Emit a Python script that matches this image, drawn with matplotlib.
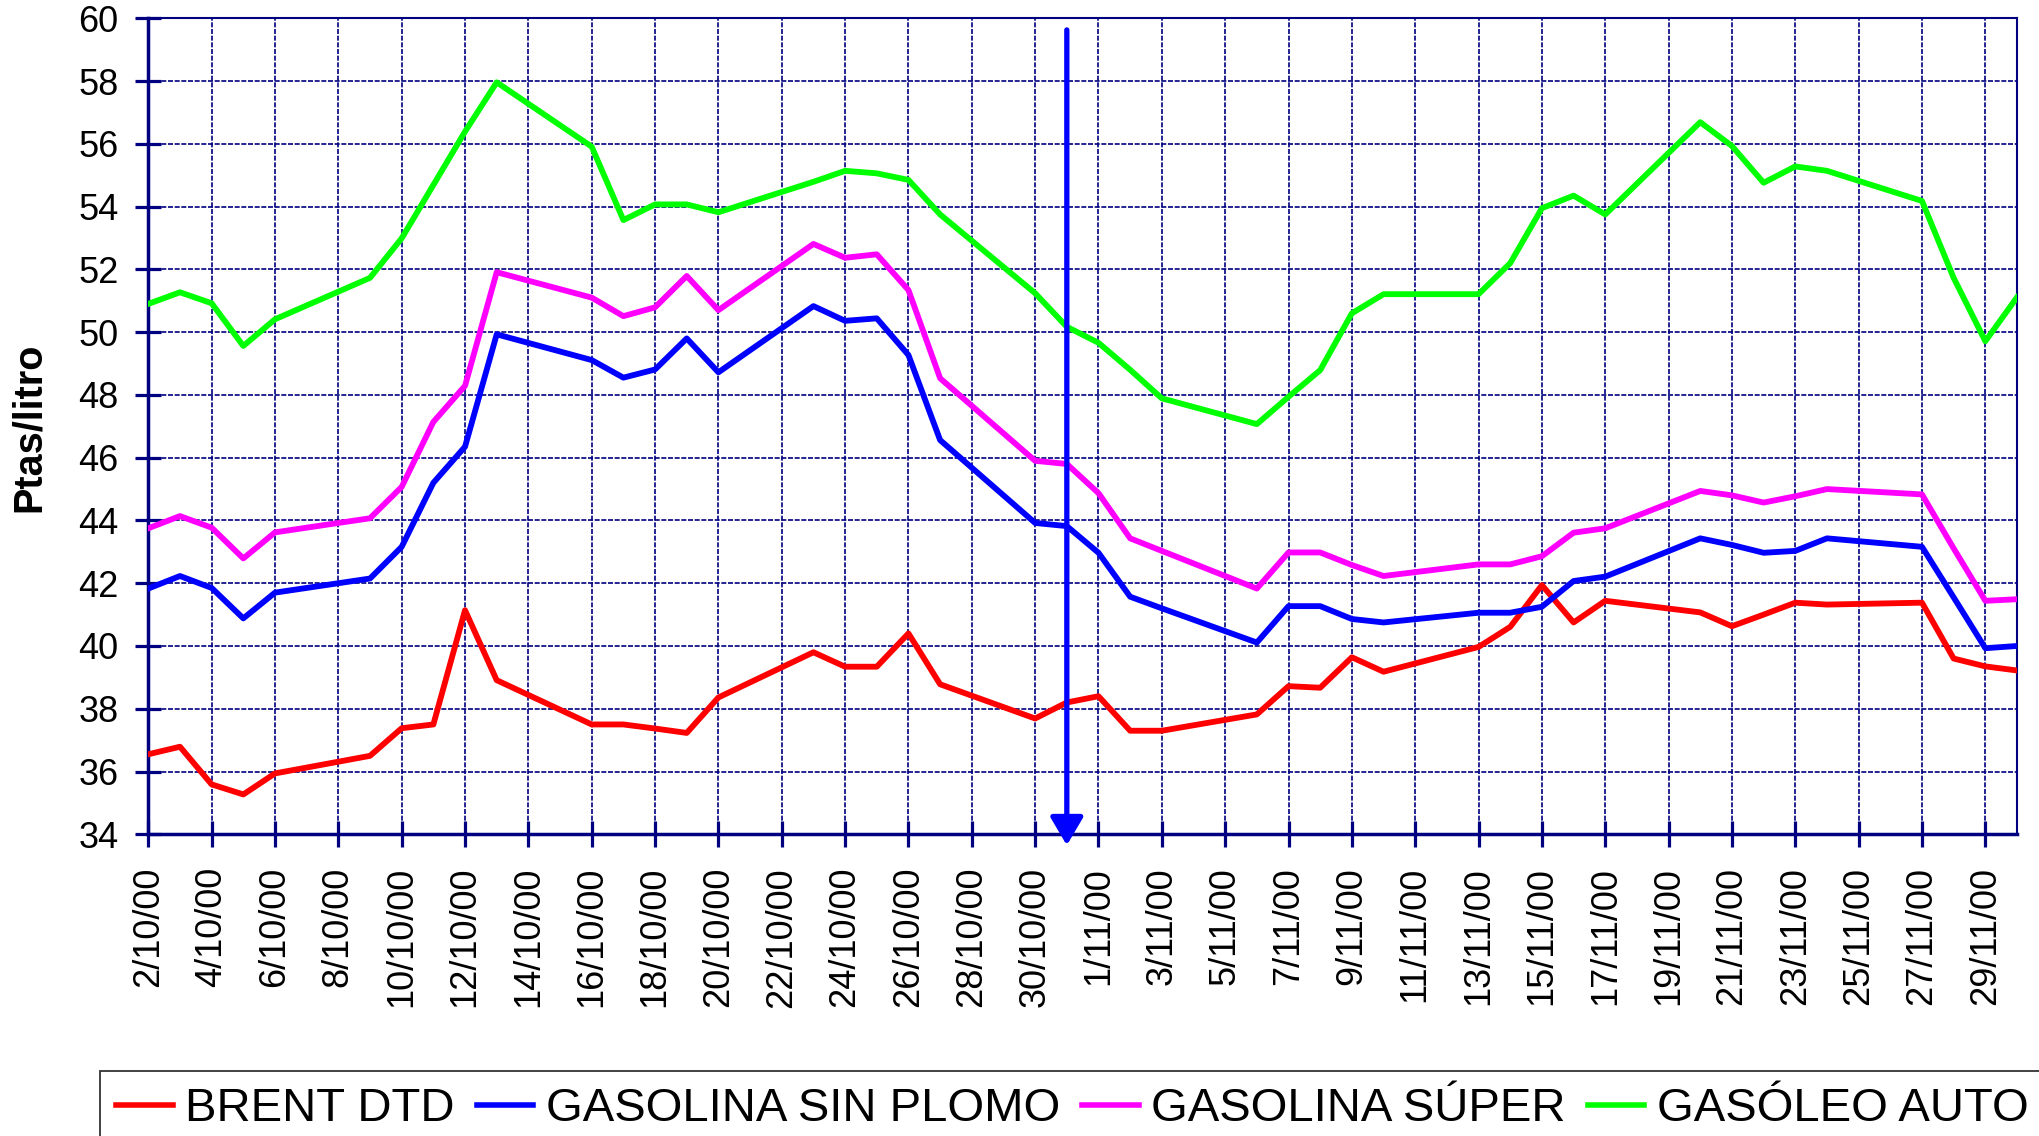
import numpy as np
import pandas as pd
import matplotlib
matplotlib.use("Agg")
import matplotlib.pyplot as plt

plt.rcParams['font.family'] = ['Liberation Sans', 'DejaVu Sans']

# ---- data (Ptas/litro), business days Oct-Nov 2000 ----
dates = ["2000-10-02", "2000-10-03", "2000-10-04", "2000-10-05", "2000-10-06",
         "2000-10-09", "2000-10-10", "2000-10-11", "2000-10-12", "2000-10-13",
         "2000-10-16", "2000-10-17", "2000-10-18", "2000-10-19", "2000-10-20",
         "2000-10-23", "2000-10-24", "2000-10-25", "2000-10-26", "2000-10-27",
         "2000-10-30", "2000-10-31", "2000-11-01", "2000-11-02", "2000-11-03",
         "2000-11-06", "2000-11-07", "2000-11-08", "2000-11-09", "2000-11-10",
         "2000-11-13", "2000-11-14", "2000-11-15", "2000-11-16", "2000-11-17",
         "2000-11-20", "2000-11-21", "2000-11-22", "2000-11-23", "2000-11-24",
         "2000-11-27", "2000-11-28", "2000-11-29", "2000-11-30"]

brent = [36.55, 36.79, 35.59, 35.27, 35.94,
         36.50, 37.38, 37.50, 41.14, 38.91,
         37.50, 37.50, 37.37, 37.23, 38.36,
         39.80, 39.34, 39.34, 40.40, 38.78,
         37.69, 38.20, 38.40, 37.30, 37.30,
         37.82, 38.72, 38.67, 39.64, 39.18,
         39.97, 40.61, 41.94, 40.75, 41.44,
         41.07, 40.63, 41.00, 41.38, 41.32,
         41.38, 39.60, 39.35, 39.22]

sin_plomo = [41.83, 42.23, 41.85, 40.88, 41.70,
             42.15, 43.16, 45.20, 46.35, 49.93,
             49.11, 48.55, 48.81, 49.80, 48.72,
             50.83, 50.36, 50.44, 49.27, 46.56,
             43.92, 43.82, 42.97, 41.57, 41.20,
             40.11, 41.27, 41.27, 40.86, 40.75,
             41.06, 41.06, 41.25, 42.07, 42.21,
             43.43, 43.22, 42.97, 43.03, 43.43,
             43.16, 41.55, 39.93, 40.00]

super_ = [43.75, 44.14, 43.77, 42.79, 43.62,
          44.07, 45.07, 47.14, 48.29, 51.91,
          51.10, 50.51, 50.79, 51.79, 50.70,
          52.81, 52.37, 52.48, 51.34, 48.53,
          45.90, 45.80, 44.87, 43.43, 43.03,
          41.83, 42.98, 42.98, 42.58, 42.23,
          42.60, 42.60, 42.86, 43.61, 43.75,
          44.94, 44.80, 44.57, 44.77, 45.00,
          44.83, 43.11, 41.44, 41.49]

gasoleo = [50.90, 51.27, 50.92, 49.56, 50.41,
           51.73, 52.99, 54.69, 56.39, 57.96,
           55.91, 53.57, 54.07, 54.07, 53.82,
           54.79, 55.14, 55.06, 54.85, 53.75,
           51.24, 50.17, 49.66, 48.80, 47.89,
           47.07, 47.94, 48.79, 50.60, 51.21,
           51.21, 52.20, 53.95, 54.35, 53.75,
           56.69, 55.93, 54.76, 55.28, 55.14,
           54.18, 51.73, 49.71, 51.11]

series_names = ["BRENT DTD", "GASOLINA SIN PLOMO", "GASOLINA SÚPER", "GASÓLEO AUTO"]
series_colors = ["#ff0000", "#0000ff", "#ff00ff", "#00ff00"]

marker_day = "2000-10-31"   # vertical arrow
arrow_top = 59.63

x = np.array(dates, dtype="datetime64[D]")
navy = "#000080"

fig = plt.figure(figsize=(20.4, 11.36), dpi=100)
ax = fig.add_axes([148.3 / 2040, 1 - 834.3 / 1136, (2017 - 148.3) / 2040, (834.3 - 18.3) / 1136])

for vals, name, col in zip([brent, sin_plomo, super_, gasoleo], series_names, series_colors):
    ax.plot(x, vals, color=col, lw=4.2, label=name, zorder=3)

ax.set_xlim(np.datetime64("2000-10-02"), np.datetime64("2000-11-30"))
ax.set_ylim(34, 60)
ax.set_yticks(np.arange(34, 61, 2))

tick_dates = pd.date_range("2000-10-02", "2000-11-29", freq="2D")
ax.set_xticks(tick_dates.values)
ax.set_xticklabels([f"{d.day}/{d.month}/{d:%y}" for d in tick_dates], rotation=90)

ax.grid(True, color=navy, lw=1.2, linestyle=(0, (3, 1)), zorder=1)
ax.set_axisbelow(True)

for s in ["left", "bottom"]:
    ax.spines[s].set_color(navy)
    ax.spines[s].set_linewidth(2.5)
for s in ["top", "right"]:
    ax.spines[s].set_color(navy)
    ax.spines[s].set_linewidth(1.5)

ax.tick_params(axis="both", direction="inout", length=19, width=2.3, color=navy, labelsize=26)
ax.tick_params(axis="y", pad=12)
ax.tick_params(axis="x", pad=14)

# vertical arrow
ax.annotate("", xy=(np.datetime64(marker_day), 33.65), xytext=(np.datetime64(marker_day), arrow_top),
            arrowprops=dict(arrowstyle="-|>,head_length=17,head_width=10", color="#0000ff",
                            lw=3.8, shrinkA=0, shrinkB=0, mutation_scale=1),
            annotation_clip=False, zorder=5)

fig.text(29 / 2040, 1 - 427 / 1136, "Ptas/litro", rotation=90, ha="center", va="center",
         fontsize=28.5, fontweight="bold")

leg = fig.legend(loc="upper left", bbox_to_anchor=(100 / 2040, 1 - 1071 / 1136), ncol=4,
                 fontsize=34, handlelength=1.2, handletextpad=0.26, columnspacing=0.47,
                 borderpad=0.34, borderaxespad=0, frameon=True, fancybox=False)
leg.get_frame().set_edgecolor("black")
leg.get_frame().set_linewidth(1.3)
for ln in leg.get_lines():
    ln.set_linewidth(4.0)

fig.savefig("out.png", dpi=100)
